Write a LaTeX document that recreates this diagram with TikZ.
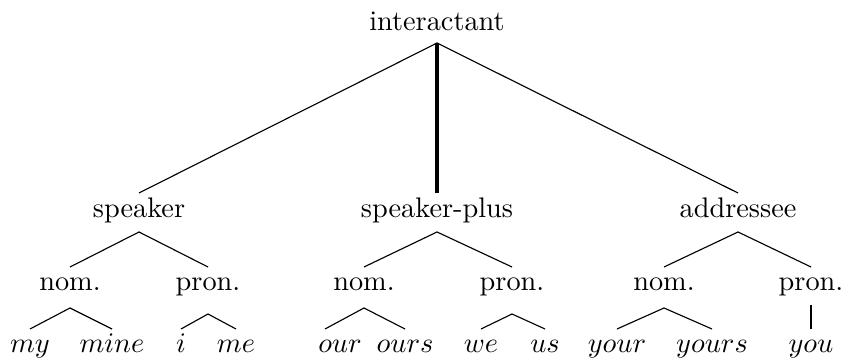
\documentclass[tikz,border=0pt]{standalone}
\begin{document}
\begin{tikzpicture}[x=0.3533pt,y=-0.3533pt,
  lab/.style={anchor=base,inner sep=0pt},
  edge/.style={line width=0.4pt},
  vedge/.style={line width=1.2pt}]
\useasboundingbox (0,0) rectangle (845,360);
% levels
\coordinate (L0b) at (0,43);
\coordinate (L1t) at (0,193);
\coordinate (L1b) at (0,232);
\coordinate (L2t) at (0,267);
\coordinate (L2n) at (0,308);
\coordinate (L2p) at (0,314);
\coordinate (L2v) at (0,305);
\coordinate (L3t) at (0,329);
% nodes
\node[lab] (int) at (437,31) {interactant};
\node[lab] (spk) at (139,218) {speaker};
\node[lab] (sp) at (437,218) {speaker-plus};
\node[lab] (adr) at (738,218) {addressee};
\node[lab] (nom1) at (70,291) {nom.};
\node[lab] (pro1) at (208,291) {pron.};
\node[lab] (nom2) at (364,291) {nom.};
\node[lab] (pro2) at (512,291) {pron.};
\node[lab] (nom3) at (664,291) {nom.};
\node[lab] (pro3) at (811,291) {pron.};
\node[lab] (my) at (30,353) {$my$};
\node[lab] (mine) at (112,353) {$mine$};
\node[lab] (i) at (181,353) {$i$};
\node[lab] (me) at (236,353) {$me$};
\node[lab] (our) at (340,353) {$our$};
\node[lab] (ours) at (405,353) {$ours$};
\node[lab] (we) at (481,353) {$we$};
\node[lab] (us) at (545,353) {$us$};
\node[lab] (your) at (617,353) {$your$};
\node[lab] (yours) at (712,353) {$yours$};
\node[lab] (you) at (811,353) {$you$};
\coordinate (our-up) at (325,329);
% edges
\draw[edge] (spk |- L1t) -- (int |- L0b) -- (adr |- L1t);
\draw[vedge] (int |- L0b) -- (sp |- L1t);
\draw[edge] (nom1 |- L2t) -- (spk |- L1b) -- (pro1 |- L2t);
\draw[edge] (nom2 |- L2t) -- (sp |- L1b) -- (pro2 |- L2t);
\draw[edge] (nom3 |- L2t) -- (adr |- L1b) -- (pro3 |- L2t);
\draw[edge] (my |- L3t) -- (nom1 |- L2n) -- (mine |- L3t);
\draw[edge] (i |- L3t) -- (pro1 |- L2p) -- (me |- L3t);
\draw[edge] (our-up) -- (nom2 |- L2n) -- (ours |- L3t);
\draw[edge] (we |- L3t) -- (pro2 |- L2p) -- (us |- L3t);
\draw[edge] (your |- L3t) -- (nom3 |- L2n) -- (yours |- L3t);
\draw[vedge,line width=0.9pt] (pro3 |- L2v) -- (you |- L3t);
\end{tikzpicture}
\end{document}
